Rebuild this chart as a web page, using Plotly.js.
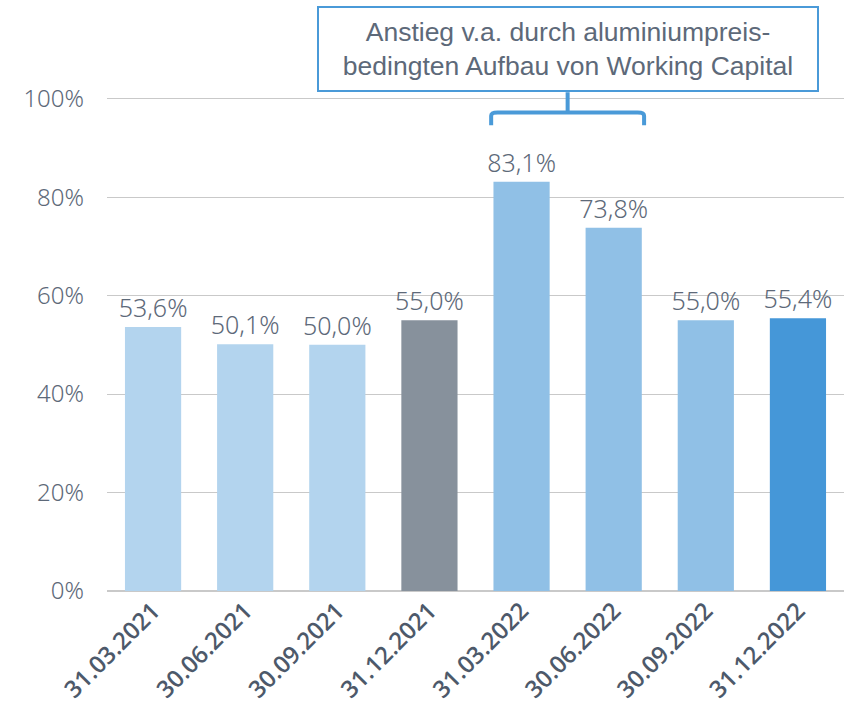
<!DOCTYPE html>
<html>
<head>
<meta charset="utf-8">
<script src="https://cdn.plot.ly/plotly-3.0.1.min.js"></script>
<style>html,body{margin:0;padding:0;background:#fff}#chart{width:844px;height:716px}</style>
</head>
<body>
<div id="chart"></div>
<script>
const categories = ["31.03.2021","30.06.2021","30.09.2021","31.12.2021","31.03.2022","30.06.2022","30.09.2022","31.12.2022"];
const values = [53.6, 50.1, 50.0, 55.0, 83.1, 73.8, 55.0, 55.4];
const barColors = ["#b3d4ee","#b3d4ee","#b3d4ee","#87919c","#90c0e6","#90c0e6","#90c0e6","#4597d8"];
const yTicks = [0, 20, 40, 60, 80, 100];
const yTickText = ["0%","20%","40%","60%","80%","100%"];
const noteText = "Anstieg v.a. durch aluminiumpreis-<br>bedingten Aufbau von Working Capital";

const idx = categories.map((c, i) => i);
const textColor = "#5d6979";
const accent = "#4a9ad8";

const trace = {
  type: "bar",
  x: idx,
  y: values,
  marker: {color: barColors},
  texttemplate: "%{y:.1f}%",
  textposition: "outside",
  constraintext: "none",
  cliponaxis: false,
  textfont: {family: "'Noto Sans', sans-serif", size: 25, color: textColor, weight: 300},
  hoverinfo: "skip"
};

const layout = {
  width: 844, height: 716,
  margin: {l: 107, r: 0, t: 10, b: 125},
  paper_bgcolor: "#ffffff", plot_bgcolor: "#ffffff",
  separators: ",.",
  bargap: 0.39,
  showlegend: false,
  xaxis: {
    range: [-0.5, 7.5],
    tickvals: idx, ticktext: categories,
    tickangle: -45,
    showgrid: false, zeroline: false, showline: false, ticks: "",
    tickfont: {family: "'Open Sans', sans-serif", size: 24, color: "#4d596a", weight: 600}
  },
  yaxis: {
    range: [0, 118],
    tickvals: yTicks, ticktext: yTickText,
    showgrid: true, gridcolor: "#c9c9c9", gridwidth: 1,
    zeroline: true, zerolinecolor: "#c9c9c9", zerolinewidth: 2,
    showline: false, ticks: "",
    ticklabelstandoff: 22,
    tickfont: {family: "'Noto Sans', sans-serif", size: 24, color: textColor, weight: 300}
  },
  annotations: [{
    xref: "x", yref: "y", x: 4.5, y: 110,
    text: noteText, showarrow: false,
    font: {family: "'Liberation Sans', Arial, sans-serif", size: 26.5, color: textColor},
    bordercolor: accent, borderwidth: 2, borderpad: 4,
    bgcolor: "#ffffff",
    width: 490, height: 74, align: "center", valign: "middle"
  }],
  shapes: [
    {type: "line", xref: "x", yref: "y", x0: 4.5, x1: 4.5, y0: 101.3, y1: 97.2,
     line: {color: accent, width: 4}},
    {type: "path", xref: "x", yref: "y",
     path: "M 3.67 94.6 L 3.67 96.5 Q 3.67 97.2 3.74 97.2 L 5.26 97.2 Q 5.33 97.2 5.33 96.5 L 5.33 94.6",
     line: {color: accent, width: 4}}
  ]
};

Plotly.newPlot("chart", [trace], layout, {displayModeBar: false, staticPlot: true});
</script>
</body>
</html>
